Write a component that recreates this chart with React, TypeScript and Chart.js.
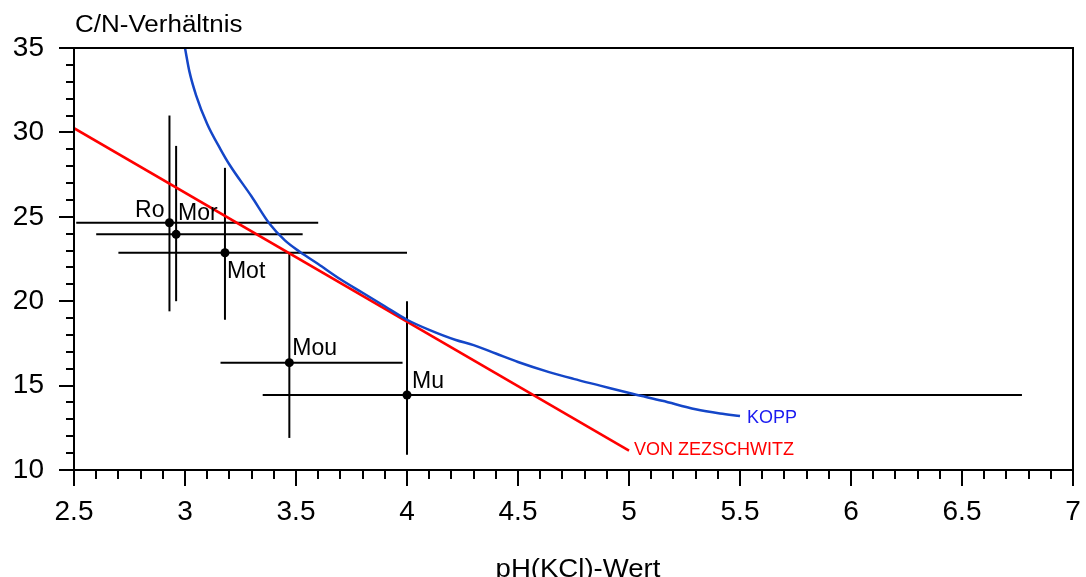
import React, { useEffect, useRef } from 'react';
import { Chart, registerables } from 'chart.js';

Chart.register(...registerables);

// ---- data ----
const siteLabels = ['Ro', 'Mor', 'Mot', 'Mou', 'Mu'];
const sitePH = [2.93, 2.96, 3.18, 3.47, 4.0];
const siteCN = [24.65, 23.96, 22.87, 16.36, 14.44];
const phLow = [2.51, 2.6, 2.7, 3.16, 3.35];
const phHigh = [3.6, 3.53, 4.0, 3.98, 6.77];
const cnLow = [19.4, 20.0, 18.9, 11.9, 10.9];
const cnHigh = [31.0, 29.2, 27.9, 22.8, 20.0];

const zezPH = [2.5, 5.0];
const zezCN = [30.25, 11.15];

const koppPH = [3.0, 3.02, 3.05, 3.1, 3.16, 3.2, 3.3, 3.38, 3.45, 3.52, 3.6, 3.7, 3.8, 3.9, 4.0, 4.1, 4.22, 4.3, 4.4, 4.5, 4.64, 4.75, 4.87, 5.02, 5.15, 5.3, 5.41, 5.5];
const koppCN = [35.0, 33.6, 32.2, 30.5, 29.0, 28.1, 26.2, 24.6, 23.6, 22.9, 22.2, 21.3, 20.5, 19.7, 18.9, 18.3, 17.7, 17.4, 16.9, 16.4, 15.8, 15.4, 15.0, 14.5, 14.1, 13.6, 13.35, 13.2];

const xTickLabels = ['2.5', '3', '3.5', '4', '4.5', '5', '5.5', '6', '6.5', '7'];
const yTickLabels = ['10', '15', '20', '25', '30', '35'];

const yTitle = 'C/N-Verhältnis';
const xTitle = 'pH(KCl)-Wert';
const koppName = 'KOPP';
const zezName = 'VON ZEZSCHWITZ';

// ---- styles ----
const FONT = '"Liberation Sans", Arial, Helvetica, sans-serif';
const BLUE = '#1446c8';
const BLUE_TEXT = '#1a1af0';
const RED = '#ff0000';

const labelPlace = [
  { align: 'right', dx: -5, dy: -6 },
  { align: 'left', dx: 2, dy: -14 },
  { align: 'left', dx: 2, dy: 25 },
  { align: 'left', dx: 3, dy: -8 },
  { align: 'left', dx: 5, dy: -7 },
];

const fmt = (v: number) => String(Math.round(v * 10) / 10);

const framePlugin = {
  id: 'frame',
  afterDatasetsDraw(chart: any) {
    const { ctx, chartArea, scales } = chart;
    const { left, right, top, bottom } = chartArea;
    const xs = scales.x;
    const ys = scales.y;
    ctx.save();
    ctx.strokeStyle = '#000';
    ctx.lineWidth = 2;
    ctx.lineCap = 'butt';
    ctx.beginPath();
    ctx.moveTo(left - 15, top);
    ctx.lineTo(right + 1, top);
    ctx.moveTo(right, top);
    ctx.lineTo(right, bottom);
    ctx.moveTo(left, top);
    ctx.lineTo(left, bottom + 1);
    ctx.moveTo(left - 15, bottom);
    ctx.lineTo(right + 1, bottom);
    xs.ticks.forEach((t: any) => {
      const major = xTickLabels.includes(fmt(t.value));
      const px = Math.round(xs.getPixelForValue(t.value));
      ctx.moveTo(px, bottom);
      ctx.lineTo(px, bottom + (major ? 16 : 9));
    });
    ys.ticks.forEach((t: any) => {
      const major = yTickLabels.includes(fmt(t.value));
      const py = Math.round(ys.getPixelForValue(t.value));
      ctx.moveTo(left, py);
      ctx.lineTo(left - (major ? 15 : 8), py);
    });
    ctx.stroke();

    ctx.fillStyle = '#000';
    ctx.font = `23px ${FONT}`;
    ctx.textBaseline = 'alphabetic';
    siteLabels.forEach((lab, i) => {
      const p = labelPlace[i];
      const px = xs.getPixelForValue(sitePH[i]);
      const py = ys.getPixelForValue(siteCN[i]);
      ctx.textAlign = p.align;
      ctx.fillText(lab, px + p.dx, py + p.dy);
    });

    ctx.font = `18px ${FONT}`;
    ctx.textAlign = 'left';
    ctx.fillStyle = BLUE_TEXT;
    const kx = xs.getPixelForValue(koppPH[koppPH.length - 1]);
    const ky = ys.getPixelForValue(koppCN[koppCN.length - 1]);
    ctx.fillText(koppName, kx + 7, ky + 7);
    ctx.fillStyle = RED;
    const zx = xs.getPixelForValue(zezPH[zezPH.length - 1]);
    const zy = ys.getPixelForValue(zezCN[zezCN.length - 1]);
    ctx.fillText(zezName, zx + 5, zy + 4);

    ctx.fillStyle = '#000';
    ctx.font = `23px ${FONT}`;
    ctx.textAlign = 'left';
    ctx.save();
    ctx.translate(left + 1, 32);
    ctx.scale(1.13, 1);
    ctx.fillText(yTitle, 0, 0);
    ctx.restore();

    ctx.font = `26px ${FONT}`;
    ctx.textAlign = 'center';
    ctx.save();
    ctx.translate(578, 577);
    ctx.scale(1.06, 1);
    ctx.fillText(xTitle, 0, 0);
    ctx.restore();
    ctx.restore();
  },
};

export default function App() {
  const ref = useRef<HTMLCanvasElement | null>(null);

  useEffect(() => {
    if (!ref.current) return;
    const bars: any[] = [];
    siteLabels.forEach((_, i) => {
      bars.push({
        data: [
          { x: phLow[i], y: siteCN[i] },
          { x: phHigh[i], y: siteCN[i] },
        ],
        showLine: true,
        borderColor: '#000',
        borderWidth: 2,
        pointRadius: 0,
        order: 3,
      });
      bars.push({
        data: [
          { x: sitePH[i], y: cnLow[i] },
          { x: sitePH[i], y: cnHigh[i] },
        ],
        showLine: true,
        borderColor: '#000',
        borderWidth: 2,
        pointRadius: 0,
        order: 3,
      });
    });

    const chart = new Chart(ref.current, {
      type: 'scatter',
      data: {
        datasets: [
          {
            data: sitePH.map((x, i) => ({ x, y: siteCN[i] })),
            showLine: false,
            pointRadius: 4.5,
            pointBackgroundColor: '#000',
            pointBorderWidth: 0,
            order: 0,
          },
          {
            data: zezPH.map((x, i) => ({ x, y: zezCN[i] })),
            showLine: true,
            borderColor: RED,
            borderWidth: 2.5,
            pointRadius: 0,
            order: 2,
          },
          {
            data: koppPH.map((x, i) => ({ x, y: koppCN[i] })),
            showLine: true,
            borderColor: BLUE,
            borderWidth: 2.5,
            pointRadius: 0,
            cubicInterpolationMode: 'monotone',
            order: 1,
          },
          ...bars,
        ],
      },
      options: {
        animation: false,
        responsive: true,
        maintainAspectRatio: false,
        events: [],
        layout: { padding: { top: 48, right: 13, left: 0, bottom: 0 } },
        plugins: { legend: { display: false }, tooltip: { enabled: false } },
        scales: {
          x: {
            type: 'linear',
            min: 2.5,
            max: 7,
            grid: { display: false, drawTicks: false },
            border: { display: false },
            ticks: {
              stepSize: 0.1,
              autoSkip: false,
              maxRotation: 0,
              padding: 25,
              color: '#000',
              font: { family: FONT, size: 28 },
              callback: (v: any) => {
                const s = fmt(Number(v));
                return xTickLabels.includes(s) ? s : '';
              },
            },
            afterFit: (s: any) => {
              s.height = 107;
              s.paddingLeft = 0;
              s.paddingRight = 0;
            },
          },
          y: {
            type: 'linear',
            min: 10,
            max: 35,
            grid: { display: false, drawTicks: false },
            border: { display: false },
            ticks: {
              stepSize: 1,
              autoSkip: false,
              padding: 30,
              color: '#000',
              font: { family: FONT, size: 28 },
              callback: (v: any) => {
                const s = fmt(Number(v));
                return yTickLabels.includes(s) ? s : '';
              },
            },
            afterFit: (s: any) => {
              s.width = 74;
              s.paddingTop = 0;
              s.paddingBottom = 0;
            },
          },
        },
      },
      plugins: [framePlugin],
    });
    return () => chart.destroy();
  }, []);

  return (
    <div style={{ position: 'absolute', left: 0, top: 0, width: 1086, height: 577, background: '#fff' }}>
      <canvas ref={ref} />
    </div>
  );
}
